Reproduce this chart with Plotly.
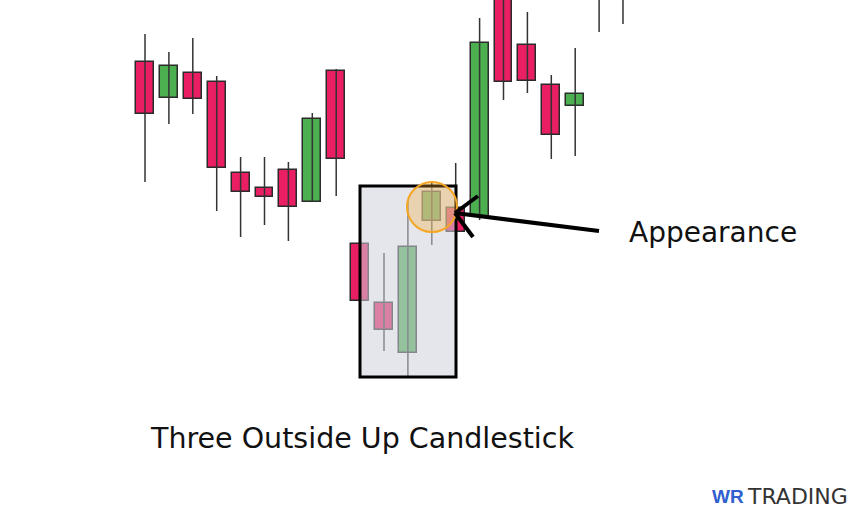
import plotly.graph_objects as go

# Candle data (price units), index 0..20
idx    = list(range(21))
opens  = [43.8, 40.2, 42.7, 41.8, 32.7, 31.2, 33.0, 29.8, 42.9, 25.6, 19.7, 14.7, 27.9, 29.2, 28.3, 51.0, 45.5, 41.5, 39.4, 51.0, 56.0]
closes = [38.6, 43.4, 40.1, 33.2, 30.8, 30.3, 29.3, 38.1, 34.1, 19.9, 17.0, 25.3, 30.8, 26.8, 45.7, 41.8, 41.9, 36.5, 40.6, 57.0, 52.0]
highs  = [46.6, 44.8, 46.2, 42.4, 34.3, 34.3, 33.8, 38.7, 43.1, 26.0, 24.7, 30.0, 31.7, 33.7, 48.2, 52.0, 48.8, 42.5, 45.2, 60.0, 60.0]
lows   = [31.8, 37.6, 38.6, 28.9, 26.3, 27.5, 25.9, 29.8, 30.4, 19.0, 14.9, 12.3, 25.5, 26.5, 28.0, 40.0, 40.7, 34.1, 34.4, 46.8, 47.6]

title_text = "Three Outside Up Candlestick"
label_text = "Appearance"

RED = "#e91e63"
GREEN = "#4caf50"
EDGE = "#2b2b2b"

body_base = [min(o, c) for o, c in zip(opens, closes)]
body_h = [max(abs(c - o), 0.1) for o, c in zip(opens, closes)]
colors = [GREEN if c > o else RED for o, c in zip(opens, closes)]

wx, wy = [], []
for i, h, l in zip(idx, highs, lows):
    wx += [i, i, None]
    wy += [h, l, None]

fig = go.Figure()
fig.add_trace(go.Scatter(x=wx, y=wy, mode="lines",
                         line=dict(color="#333333", width=1.5),
                         hoverinfo="skip", showlegend=False))
fig.add_trace(go.Bar(x=idx, y=body_h, base=body_base, width=0.75,
                     marker=dict(color=colors, line=dict(color=EDGE, width=1.5)),
                     showlegend=False))

# pixel -> data helpers for annotations only
def px(x):
    return (x - 145) / 23.9

def py(y):
    return (500 - y) / 10

shapes = [
    dict(type="rect", x0=px(360), x1=px(456), y0=py(186), y1=py(377),
         fillcolor="rgba(205,210,220,0.55)", line=dict(color="#000000", width=3),
         layer="above"),
    dict(type="circle", x0=px(407), x1=px(457), y0=py(182), y1=py(232),
         fillcolor="rgba(245,166,35,0.30)", line=dict(color="#f5a623", width=2),
         layer="above"),
    dict(type="line", x0=px(599), y0=py(231), x1=px(455), y1=py(213),
         line=dict(color="#000000", width=4), layer="above"),
    dict(type="line", x0=px(455), y0=py(213), x1=px(478), y1=py(196),
         line=dict(color="#000000", width=4), layer="above"),
    dict(type="line", x0=px(455), y0=py(213), x1=px(473), y1=py(237),
         line=dict(color="#000000", width=4), layer="above"),
]

annotations = [
    dict(x=px(627), y=py(232), text=label_text, showarrow=False, xanchor="left",
         yanchor="middle", font=dict(family="DejaVu Sans", size=28, color="#111111")),
    dict(x=px(361.5), y=py(438), text=title_text, showarrow=False, xanchor="center",
         yanchor="middle", font=dict(family="DejaVu Sans", size=28.5, color="#111111")),
    dict(x=px(746), y=py(496), text="<b>WR</b>", showarrow=False, xanchor="right",
         yanchor="middle", font=dict(family="Liberation Sans", size=19, color="#2f5fd0")),
    dict(x=px(745), y=py(496), text="TRADING", showarrow=False, xanchor="left",
         yanchor="middle", font=dict(family="DejaVu Sans", size=22, color="#333333")),
]

fig.update_layout(
    width=860, height=515,
    margin=dict(l=0, r=0, t=0, b=0),
    paper_bgcolor="#ffffff", plot_bgcolor="#ffffff",
    xaxis=dict(range=[px(0), px(860)], visible=False, fixedrange=True),
    yaxis=dict(range=[py(515), py(0)], visible=False, fixedrange=True),
    shapes=shapes, annotations=annotations,
    bargap=0, showlegend=False,
)

fig.write_html("out.html", config={"displayModeBar": False},
               post_script="document.body.style.margin='0';document.body.style.overflow='hidden';")
